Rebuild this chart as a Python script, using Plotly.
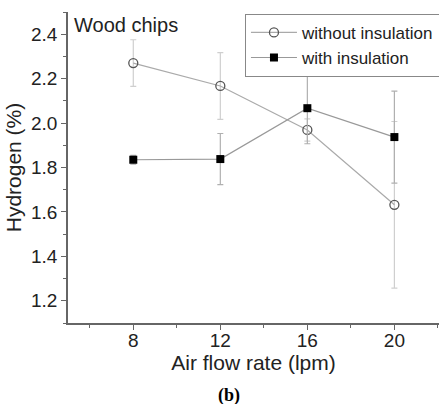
import plotly.graph_objects as go

flow = [8, 12, 16, 20]
h_without = [2.27, 2.167, 1.969, 1.632]
err_without = [0.105, 0.15, 0.05, 0.375]
h_with = [1.835, 1.838, 2.067, 1.937]
err_with = [0.02, 0.115, 0.16, 0.207]

FONT = "Liberation Sans, Arial, sans-serif"

fig = go.Figure()
fig.add_trace( go.Scatter( x=flow, y=h_without,
                           mode="lines+markers",
                           name="without insulation",
                           line={ "color" : "#aaaaaa", "width" : 1.2 },
                           marker={ "symbol" : "circle-open", "size" : 9,
                                    "color" : "#555555", "line" : { "width" : 1.3, "color" : "#555555" } },
                           error_y={ "type" : "data", "array" : err_without, "visible" : True,
                                     "color" : "#cfcfcf", "thickness" : 1.2, "width" : 3 } ) )
fig.add_trace( go.Scatter( x=flow, y=h_with,
                           mode="lines+markers",
                           name="with insulation",
                           line={ "color" : "#999999", "width" : 1.2 },
                           marker={ "symbol" : "square", "size" : 8, "color" : "black" },
                           error_y={ "type" : "data", "array" : err_with, "visible" : True,
                                     "color" : "#b0b0b0", "thickness" : 1.2, "width" : 3 } ) )

axis_common = dict( showline=True, linecolor="#666666", linewidth=1.5,
                    ticks="outside", ticklen=5, tickcolor="#666666", tickwidth=1.3,
                    showgrid=False, zeroline=False, mirror=False,
                    tickfont={ "family" : FONT, "size" : 19, "color" : "#222222" } )

fig.update_xaxes( range=[5, 22.05], dtick=4, tick0=0, ticklabelstandoff=-6,
                  minor={ "dtick" : 2, "tick0" : 0, "ticklen" : 3, "tickcolor" : "#666666", "ticks" : "outside" },
                  title={ "text" : "Air flow rate (lpm)", "standoff" : 4,
                          "font" : { "family" : FONT, "size" : 21, "color" : "#222222" } },
                  **axis_common )
fig.update_yaxes( range=[1.1, 2.5], dtick=0.2, tick0=0, tickformat=".1f",
                  minor={ "dtick" : 0.1, "tick0" : 0, "ticklen" : 3, "tickcolor" : "#666666", "ticks" : "outside" },
                  title={ "text" : "Hydrogen (%)", "standoff" : 4,
                          "font" : { "family" : FONT, "size" : 21, "color" : "#222222" } },
                  **axis_common )

fig.add_annotation( text="Wood chips", xref="paper", yref="paper", x=0.01, y=1.0,
                    xanchor="left", yanchor="top", showarrow=False,
                    font={ "family" : FONT, "size" : 20, "color" : "#222222" } )
fig.add_annotation( text="<b>(b)</b>", xref="paper", yref="paper", x=0.434, y=-0.232,
                    xanchor="center", yanchor="middle", showarrow=False,
                    font={ "family" : "Liberation Serif, Times New Roman, serif", "size" : 18, "color" : "black" } )

fig.update_layout( width=439, height=404,
                   template="simple_white",
                   plot_bgcolor="white", paper_bgcolor="white",
                   margin={ "l" : 68, "r" : 0, "t" : 12, "b" : 81, "autoexpand" : False },
                   showlegend=True,
                   legend=dict( x=0.477, y=0.994, xanchor="left", yanchor="top",
                                bgcolor="white", bordercolor="#888888", borderwidth=1,
                                font={ "family" : FONT, "size" : 17, "color" : "#222222" },
                                tracegroupgap=0, itemwidth=46 ) )

# the page body has a default 8px margin; drop it so the figure sits at the corner
fig.write_html( "out.html", config={ "displayModeBar" : False },
                post_script="document.body.style.margin='0';" )
